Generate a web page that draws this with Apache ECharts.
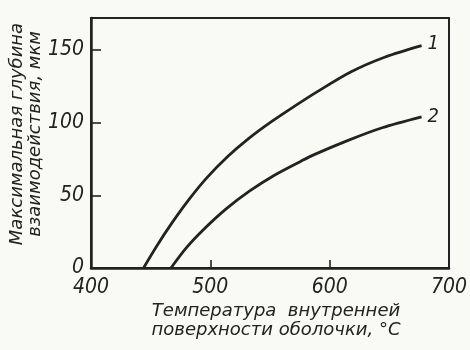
<!DOCTYPE html>
<html><head><meta charset="utf-8">
<script src="https://cdn.jsdelivr.net/npm/echarts@6/dist/echarts.min.js"></script>
<style>html,body{margin:0;padding:0;background:#f9f9f5}#c{width:470px;height:350px}</style>
</head><body><div id="c"></div>
<script>
const xTicks = [400, 500, 600, 700];
const yTicks = [0, 50, 100, 150];
const curve1Temp = [444, 455, 467, 482, 497, 515, 532, 550, 570, 589, 618, 646, 677];
const curve1Depth = [0, 15, 30, 47, 62, 77, 89, 100, 111, 121, 135, 145, 153];
const curve2Temp = [467, 480, 495, 513, 533, 553, 576, 587, 616, 644, 677];
const curve2Depth = [0, 14, 27, 40.5, 53, 63.5, 73.5, 78, 88, 96.5, 104];
const seriesNames = ['1', '2'];
const yName = 'Максимальная глубина\nвзаимодействия, мкм';
const xName = 'Температура  внутренней\nповерхности оболочки, °С';

const numFont = "'Liberation Sans Narrow', 'DejaVu Sans Condensed', sans-serif";
const nameFont = "'DejaVu Sans', sans-serif";
const ink = '#222222';
const pair = (xs, ys) => xs.map((x, i) => [x, ys[i]]);
const chart = echarts.init(document.getElementById('c'), null, {renderer: 'canvas'});
const lineStyle = {color: ink, width: 2.8};
const endLabel = {show: true, formatter: '{a}', color: ink, fontSize: 20, fontStyle: 'italic', fontFamily: numFont, distance: 6};
chart.setOption({
  backgroundColor: '#f9f9f5',
  animation: false,
  grid: {left: 91, right: 21, top: 18, bottom: 82, show: true, borderColor: ink, borderWidth: 2,
    containLabel: false, outerBoundsMode: 'none'},
  xAxis: {
    type: 'value', min: xTicks[0], max: xTicks[xTicks.length - 1], interval: 100,
    axisLine: {lineStyle: {color: ink, width: 2.5}},
    axisTick: {inside: false, length: -8, lineStyle: {color: ink, width: 1.6}},
    splitLine: {show: false},
    axisLabel: {color: ink, fontSize: 21, fontStyle: 'italic', fontFamily: numFont, margin: 9},
    name: xName, nameLocation: 'middle', nameGap: 34, nameMoveOverlap: false,
    nameTextStyle: {color: ink, fontSize: 18, fontStyle: 'italic', fontFamily: nameFont, lineHeight: 19,
      padding: [0, 0, 0, 12]}
  },
  yAxis: {
    type: 'value', min: 0, max: 172, interval: 50,
    axisLine: {lineStyle: {color: ink, width: 2.5}},
    axisTick: {inside: false, length: -10, lineStyle: {color: ink, width: 1.6}},
    splitLine: {show: false},
    axisLabel: {color: ink, fontSize: 21, fontStyle: 'italic', fontFamily: numFont, margin: 7,
      formatter: v => yTicks.includes(v) ? String(v) : ''},
    name: yName, nameLocation: 'middle', nameGap: 47, nameRotate: 90, nameMoveOverlap: false,
    nameTextStyle: {color: ink, fontSize: 18, fontStyle: 'italic', fontFamily: nameFont, lineHeight: 18,
      padding: [0, 0, 0, 18]}
  },
  series: [
    {name: seriesNames[0], type: 'line', smooth: 0.3, showSymbol: false, data: pair(curve1Temp, curve1Depth),
     lineStyle: lineStyle, endLabel: Object.assign({}, endLabel, {offset: [0, -2]})},
    {name: seriesNames[1], type: 'line', smooth: 0.3, showSymbol: false, data: pair(curve2Temp, curve2Depth),
     lineStyle: lineStyle, endLabel: endLabel}
  ]
});
</script></body></html>
